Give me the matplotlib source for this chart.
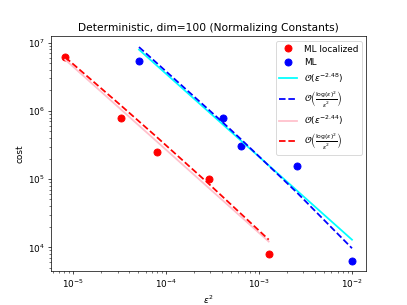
import numpy as np
from matplotlib import pyplot as plt

# eps^2 and cost
eps2_loc = [8.2e-6, 3.26e-5, 8.07e-5, 2.88e-4, 1.27e-3]
cost_loc = [6.2e6, 7.8e5, 2.47e5, 1.0e5, 7.9e3]
eps2_ml = [5.1e-5, 4.07e-4, 6.4e-4, 2.54e-3, 1.0e-2]
cost_ml = [5.5e6, 7.9e5, 3.1e5, 1.57e5, 6.3e3]

# fitted rates (log10 slope, log10 intercept) and log-rate constants, as read
power_ml = (-1.218, 1.672)
power_loc = (-1.22, 0.548)
logc_ml = 0.656
logc_loc = -0.435


def power_line(x, p):
    x = np.array(x)
    return 10 ** (p[1] + p[0] * np.log10(x))


def log_line(x, c):
    x = np.array(x)
    return 10 ** c * np.log(x) ** 2 / x


fig, ax = plt.subplots(figsize=(6.4, 4.8), dpi=63.6)
ax.plot(eps2_loc, cost_loc, "o", color="red", markersize=8, label="ML localized")
ax.plot(eps2_ml, cost_ml, "o", color="blue", markersize=8, label="ML")
ax.plot(eps2_ml, power_line(eps2_ml, power_ml), color="cyan", lw=2,
        label=r"$\mathcal{O}(\varepsilon^{-2.48})$")
ax.plot(eps2_ml, log_line(eps2_ml, logc_ml), "--", color="blue", lw=2,
        label=r"$\mathcal{O}\left(\frac{\log(\varepsilon)^2}{\varepsilon^2}\right)$")
ax.plot(eps2_loc, power_line(eps2_loc, power_loc), color="pink", lw=2,
        label=r"$\mathcal{O}(\varepsilon^{-2.44})$")
ax.plot(eps2_loc, log_line(eps2_loc, logc_loc), "--", color="red", lw=2,
        label=r"$\mathcal{O}\left(\frac{\log(\varepsilon)^2}{\varepsilon^2}\right)$")
ax.set_xscale("log")
ax.set_yscale("log")
ax.set_xlabel(r"$\varepsilon^2$")
ax.set_ylabel("cost")
ax.set_title("Deterministic, dim=100 (Normalizing Constants)")
ax.legend(loc="upper right")
fig.savefig("out.png")
